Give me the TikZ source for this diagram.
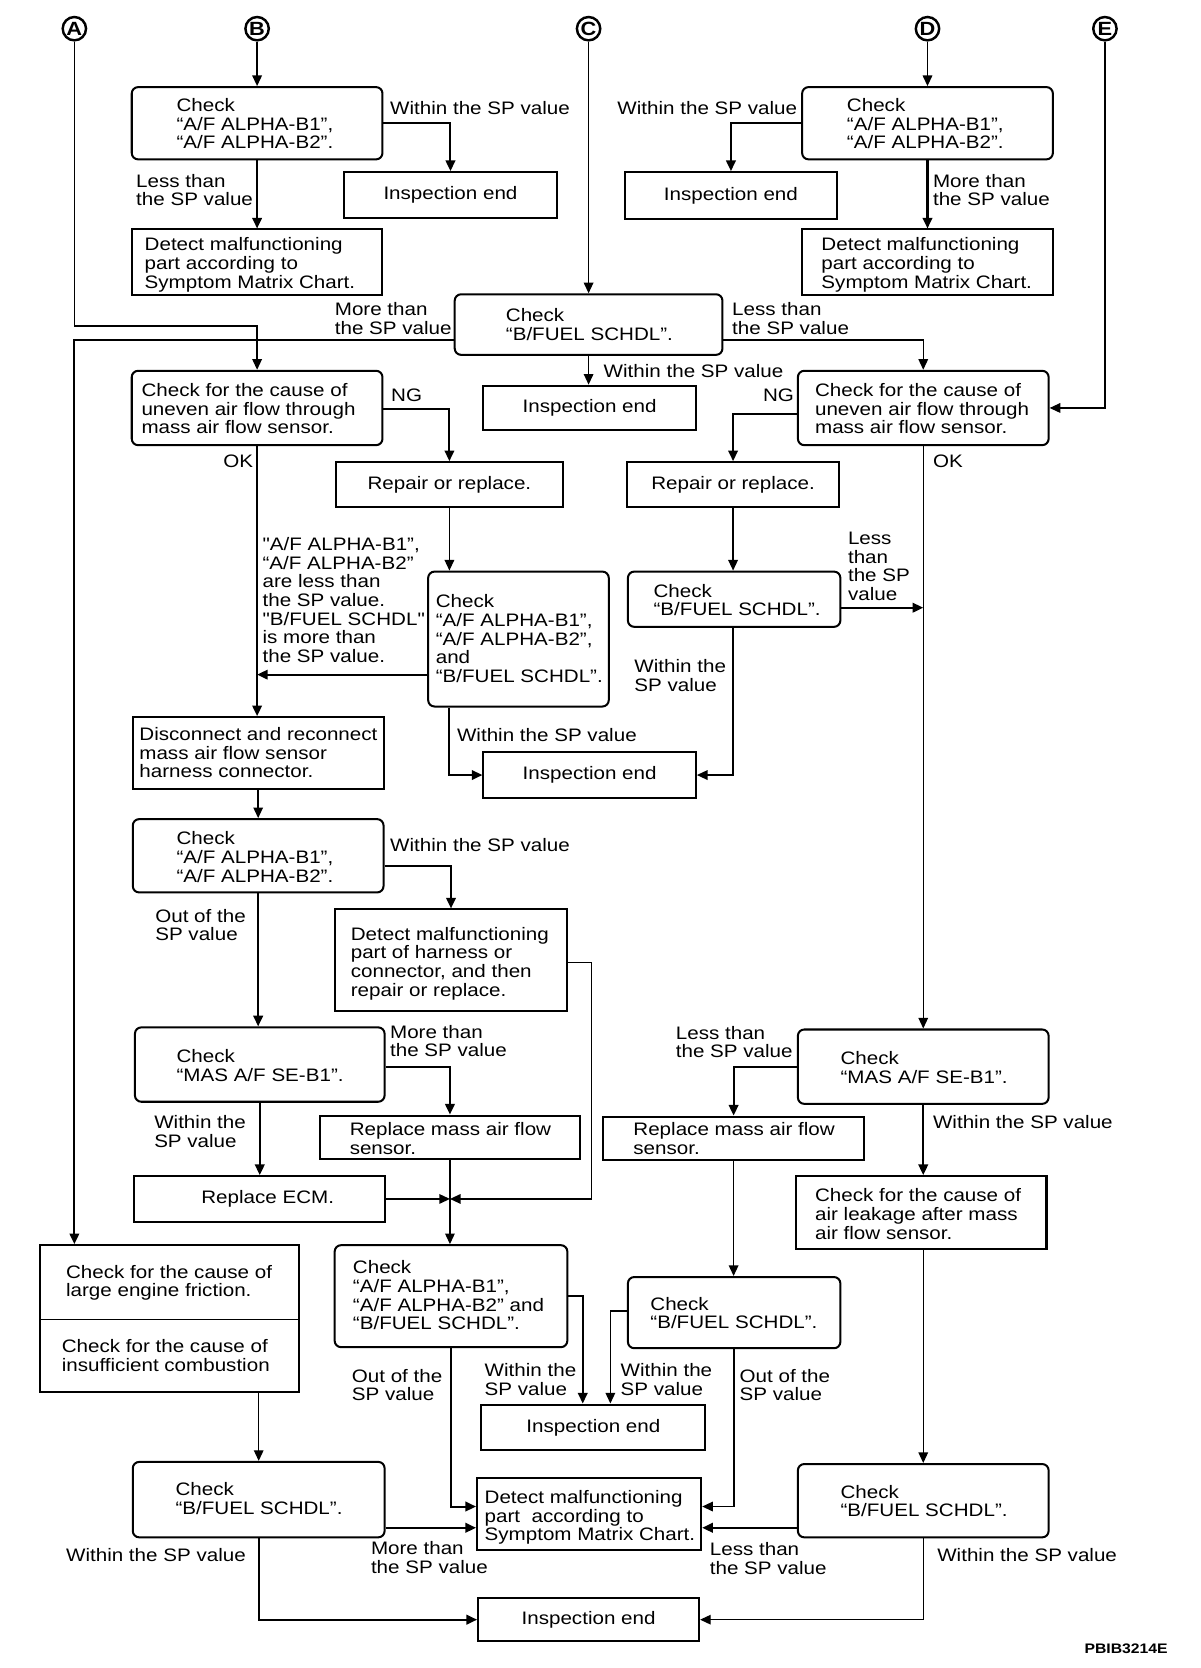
\documentclass[tikz,border=0pt]{standalone}
\usepackage{fontspec}
\setmainfont{Liberation Sans}[FakeStretch=1.14]
\newfontfamily\sqf{Liberation Sans}[FakeStretch=1.14,Ligatures=TeXOff]
\newcommand\sq{{\sqf\symbol{34}}}
\usetikzlibrary{arrows.meta,calc}
\newcommand\fs{\fontsize{17}{17.6}\selectfont}
\newcommand\mybox[9]{%
  \node[#2, minimum width={(#5)-(#3)}, minimum height={(#6)-(#4)}] (#1) at ({((#3)+(#5))/2},{((#4)+(#6))/2}) {};
  \node[txt, anchor=north west] (#1t) at (#7,{(#8)-6.5}) {#9};
}
\newcommand\cbox[6]{%
  \node[sbox, minimum width={(#4)-(#2)}, minimum height={(#5)-(#3)}] (#1) at ({((#2)+(#4))/2},{((#3)+(#5))/2}) {#6};
}
\newcommand\lbl[4]{\node[txt, anchor=north west] (#1) at (#2,{(#3)-6.5}) {#4};}
\begin{document}
\begin{tikzpicture}[x=1pt,y=-1pt,
 rbox/.style={draw, rounded corners=6pt, line width=1.9pt, inner sep=0pt},
 sbox/.style={draw, line width=1.9pt, inner sep=0pt, font=\fs},
 txt/.style={inner sep=0pt, align=left, font=\fs},
 circ/.style={draw, circle, line width=2.3pt, inner sep=0pt, minimum size=22pt, font=\fontsize{18}{18}\selectfont\bfseries},
 tk/.style={line width=1.9pt},
 tn/.style={line width=1.3pt},
 arr/.style={-{Triangle[length=10pt,width=9pt]}}]
\useasboundingbox (0,0) rectangle (1130,1570);
% circles
\node[circ] (A) at (70,27) {A};
\node[circ] (B) at (242,27) {B};
\node[circ] (C) at (554,27) {C};
\node[circ] (D) at (873,27) {D};
\node[circ] (E) at (1040,27) {E};
% top left
\mybox{B1}{rbox}{124}{82}{360}{150}{166}{99}{Check\\“A/F ALPHA-B1”,\\“A/F ALPHA-B2”.}
\cbox{IE1}{324}{162}{524}{205}{Inspection end}
\mybox{DT1}{sbox}{124}{216}{360}{278}{136}{230}{Detect malfunctioning\\part according to\\Symptom Matrix Chart.}
% top right
\mybox{D1}{rbox}{755}{82}{991}{150}{797}{99}{Check\\“A/F ALPHA-B1”,\\“A/F ALPHA-B2”.}
\cbox{IE2}{588}{162}{788}{206}{Inspection end}
\mybox{DT2}{sbox}{755}{216}{991}{278}{773}{230}{Detect malfunctioning\\part according to\\Symptom Matrix Chart.}
% center
\mybox{BF1}{rbox}{428}{277}{680}{334}{476}{297}{Check\\“B/FUEL SCHDL”.}
\cbox{IE3}{455}{363}{655}{405}{Inspection end}
% second row
\mybox{U1}{rbox}{124}{349}{360}{419}{133}{367}{Check for the cause of\\uneven air flow through\\mass air flow sensor.}
\cbox{RR1}{316}{435}{530}{477}{Repair or replace.}
\mybox{U2}{rbox}{751}{349}{987}{419}{767}{367}{Check for the cause of\\uneven air flow through\\mass air flow sensor.}
\cbox{RR2}{590}{435}{790}{477}{Repair or replace.}
\mybox{C3}{rbox}{403}{538}{573}{665}{410}{566}{Check\\“A/F ALPHA-B1”,\\“A/F ALPHA-B2”,\\and\\“B/FUEL SCHDL”.}
\mybox{BF2}{rbox}{591}{538}{791}{590}{615}{556}{Check\\“B/FUEL SCHDL”.}
\cbox{IE4}{455}{708}{655}{751}{Inspection end}
% third row left
\mybox{DIS}{sbox}{125}{675}{361}{743}{131}{691}{Disconnect and reconnect\\mass air flow sensor\\harness connector.}
\mybox{C4}{rbox}{125}{771}{361}{840}{166}{789}{Check\\“A/F ALPHA-B1”,\\“A/F ALPHA-B2”.}
\mybox{DMH}{sbox}{315}{856}{534}{952}{330}{879}{Detect malfunctioning\\part of harness or\\connector, and then\\repair or replace.}
\mybox{MAS1}{rbox}{127}{967}{362}{1037}{166}{994}{Check\\“MAS A/F SE-B1”.}
\mybox{RMS1}{sbox}{301}{1050}{546}{1091}{329}{1063}{Replace mass air flow\\sensor.}
\cbox{ECM}{126}{1107}{362}{1150}{\hspace*{16pt}Replace ECM.}
\mybox{C5}{rbox}{315}{1172}{534}{1268}{332}{1193}{Check\\“A/F ALPHA-B1”,\\“A/F ALPHA-B2” and\\“B/FUEL SCHDL”.}
\cbox{IE5}{453}{1322}{664}{1365}{Inspection end}
% third row right
\mybox{MAS2}{rbox}{751}{969}{987}{1039}{791}{996}{Check\\“MAS A/F SE-B1”.}
\mybox{RMS2}{sbox}{568}{1051}{813}{1092}{596}{1063}{Replace mass air flow\\sensor.}
\mybox{LEAK}{sbox}{749}{1107}{985}{1176}{767}{1125}{Check for the cause of\\air leakage after mass\\air flow sensor.}
\mybox{BF3}{rbox}{591}{1202}{791}{1269}{612}{1227}{Check\\“B/FUEL SCHDL”.}
\mybox{BF4}{rbox}{751}{1378}{987}{1447}{791}{1404}{Check\\“B/FUEL SCHDL”.}
% bottom left
\mybox{FRIC}{sbox}{38}{1172}{281}{1310}{62}{1197}{Check for the cause of\\large engine friction.}
\lbl{FRICb}{58}{1267}{Check for the cause of\\insufficient combustion}
\draw[line width=1.6pt] (FRIC.west |- 0,1242) -- (FRIC.east |- 0,1242);
\mybox{BF5}{rbox}{125}{1376}{362}{1447}{165}{1402}{Check\\“B/FUEL SCHDL”.}
\mybox{DSM}{sbox}{449}{1391}{660}{1459}{456}{1409}{Detect malfunctioning\\part\ \ according to\\Symptom Matrix Chart.}
\cbox{IE6}{450}{1504}{658}{1545}{Inspection end}
% labels
\lbl{l1}{367}{102}{Within the SP value}
\lbl{l2}{128}{170}{Less than\\the SP value}
\lbl{l3}{581}{102}{Within the SP value}
\lbl{l4}{878}{170}{More than\\the SP value}
\lbl{l5}{315}{291}{More than\\the SP value}
\lbl{l6}{689}{291}{Less than\\the SP value}
\lbl{l7}{568}{349}{Within the SP value}
\lbl{l8}{368}{372}{NG}
\lbl{l9}{718}{372}{NG}
\lbl{l10}{210}{434}{OK}
\lbl{l11}{878}{434}{OK}
\lbl{l12}{247}{512}{\sq A/F ALPHA-B1”,\\“A/F ALPHA-B2”\\are less than\\the SP value.\\\sq B/FUEL SCHDL\sq\\is more than\\the SP value.}
\lbl{l13}{798}{507}{Less\\than\\the SP\\value}
\lbl{l14}{597}{627}{Within the\\SP value}
\lbl{l15}{430}{692}{Within the SP value}
\lbl{l16}{367}{795}{Within the SP value}
\lbl{l17}{146}{862}{Out of the\\SP value}
\lbl{l18}{367}{971}{More than\\the SP value}
\lbl{l19}{145}{1056}{Within the\\SP value}
\lbl{l20}{636}{972}{Less than\\the SP value}
\lbl{l21}{878}{1056}{Within the SP value}
\lbl{l22}{456}{1290}{Within the\\SP value}
\lbl{l23}{331}{1295}{Out of the\\SP value}
\lbl{l24}{584}{1290}{Within the\\SP value}
\lbl{l25}{696}{1295}{Out of the\\SP value}
\lbl{l26}{62}{1464}{Within the SP value}
\lbl{l27}{349}{1457}{More than\\the SP value}
\lbl{l28}{668}{1458}{Less than\\the SP value}
\lbl{l29}{882}{1464}{Within the SP value}
\node[inner sep=0pt, font=\fontsize{13}{13}\selectfont\bfseries] (code) at (1060,1552) {PBIB3214E};
% connectors
\draw[tn,arr] (B.south) -- (B1.north);
\draw[tk,arr] (B1.east) -| (IE1.north);
\draw[tk,arr] (B1.south) -- (DT1.north);
\draw[tn,arr] (D.south) -- (D |- D1.north);
\draw[tk,arr] (D1.west) -| (IE2.north);
\draw[tk,arr] (D |- D1.south) -- (D |- DT2.north);
\draw[tn,arr] (C.south) -- (C |- BF1.north);
\draw[tn,arr] (C |- BF1.south) -- (C |- IE3.north);
\draw[tn,arr] (BF1.east |- 0,320) -| (U2.north);
\draw[tk,arr] (BF1.west |- 0,320) -| (A |- FRIC.north);
\draw[tn,arr] (A.south) |- (U1.north |- 0,307) -- (U1.north);
\draw[tk,arr] (U1.east |- 0,385) -| (RR1.north);
\draw[tk,arr] (U1.south) -- (U1.south |- DIS.north);
\draw[tn,arr] (RR1.south) -- (RR1.south |- C3.north);
\draw[tk,arr] (C3.west |- 0,635) -- (U1.south |- 0,635);
\draw[tk,arr] (RR1.south |- C3.south) |- (IE4.west);
\draw[tn,arr] (E.south) |- (U2.east);
\draw[tk,arr] (U2.west |- 0,390) -| (RR2.north);
\draw[tn,arr] (RR2.south) -- (RR2.south |- BF2.north);
\draw[tk,arr] (BF2.east |- 0,572) -- (U2.south |- 0,572);
\draw[tn,arr] (RR2.south |- BF2.south) |- (IE4.east);
\draw[tn,arr] (U2.south) -- (U2.south |- MAS2.north);
\draw[tn,arr] (DIS.south) -- (DIS.south |- C4.north);
\draw[tk,arr] (C4.east |- 0,815) -| (DMH.north);
\draw[tk,arr] (C4.south) -- (C4.south |- MAS1.north);
\coordinate (J) at (RMS1.south |- ECM.east);
\draw[tn,arr] (DMH.east |- 0,906) -- (557,906) |- (J);
\draw[tn,arr] (ECM.east) -- (J);
\draw[tn,arr] (RMS1.south) -- (RMS1.south |- C5.north);
\draw[tk,arr] (MAS1.east |- 0,1004) -| (RMS1.north);
\draw[tk,arr] (MAS1.south) -- (MAS1.south |- ECM.north);
\draw[tk,arr] (C5.east |- 0,1220) -| ($(IE5.north)+(-10,0)$);
\draw[tk,arr] (C5.south) |- (DSM.west |- 0,1418);
\draw[tk,arr] (MAS2.west) -| (RMS2.north);
\draw[tk,arr] (MAS2.south) -- (MAS2.south |- LEAK.north);
\draw[tn,arr] (RMS2.south) -- (RMS2.south |- BF3.north);
\draw[tn,arr] (BF3.west |- 0,1234) -| ($(IE5.north)+(16,0)$);
\draw[tn,arr] (BF3.south) |- (DSM.east |- 0,1418);
\draw[tn,arr] (MAS2.south |- LEAK.south) -- (MAS2.south |- BF4.north);
\draw[tk,arr] (BF4.west |- 0,1438) -- (DSM.east |- 0,1438);
\draw[tn,arr] (BF4.south) |- (IE6.east);
\draw[tn,arr] (BF5.north |- FRIC.south) -- (BF5.north);
\draw[tk,arr] (BF5.east |- 0,1438) -- (DSM.west |- 0,1438);
\draw[tk,arr] (BF5.south) |- (IE6.west);
\end{tikzpicture}
\end{document}
